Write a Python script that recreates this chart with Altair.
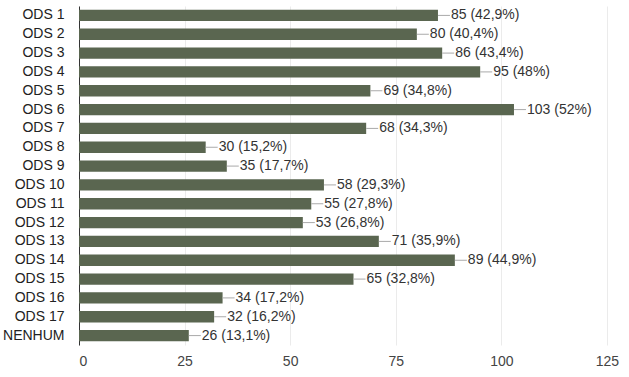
import altair as alt
import pandas as pd

categories = ["ODS 1", "ODS 2", "ODS 3", "ODS 4", "ODS 5", "ODS 6", "ODS 7", "ODS 8", "ODS 9",
              "ODS 10", "ODS 11", "ODS 12", "ODS 13", "ODS 14", "ODS 15", "ODS 16", "ODS 17", "NENHUM"]
values = [85, 80, 86, 95, 69, 103, 68, 30, 35, 58, 55, 53, 71, 89, 65, 34, 32, 26]
percents = ["42,9%", "40,4%", "43,4%", "48%", "34,8%", "52%", "34,3%", "15,2%", "17,7%",
            "29,3%", "27,8%", "26,8%", "35,9%", "44,9%", "32,8%", "17,2%", "16,2%", "13,1%"]

df = pd.DataFrame({"cat": categories, "val": values, "pct": percents})
df["label"] = df["val"].astype(str) + " (" + df["pct"] + ")"

font = "Liberation Sans"
y = alt.Y("cat:N", sort=categories, title=None,
          scale=alt.Scale(paddingInner=0.4, paddingOuter=0.2),
          axis=alt.Axis(domainColor="#333333", ticks=False, labelFontSize=14,
                        labelColor="#222222", labelPadding=15, labelFont=font, grid=False))
x = alt.X("val:Q", title=None, scale=alt.Scale(domain=[0, 125]),
          axis=alt.Axis(values=[0, 25, 50, 75, 100, 125], domain=False, ticks=False,
                        gridColor="#ebebeb", labelFontSize=14, labelColor="#444444",
                        labelFont=font, labelPadding=9))

bars = alt.Chart(df).mark_bar(color="#5a6650").encode(x=x, y=y)
leaders = alt.Chart(df).mark_rule(color="#aaaaaa", x2Offset=12, strokeWidth=1).encode(
    x="val:Q", x2="val:Q", y=alt.Y("cat:N", sort=categories, bandPosition=0.5))
texts = alt.Chart(df).mark_text(align="left", baseline="middle", dx=13, fontSize=14,
                                color="#333333", font=font).encode(
    x="val:Q", y=alt.Y("cat:N", sort=categories), text="label:N")

chart = (bars + leaders + texts).properties(
    width=629, height=377,
    padding={"left": 2, "top": 6, "right": 1, "bottom": 9},
    autosize=alt.AutoSizeParams(type="fit", contains="padding"),
).configure_view(stroke=None)

chart.save("out.html", embed_options={"renderer": "svg", "actions": False})
